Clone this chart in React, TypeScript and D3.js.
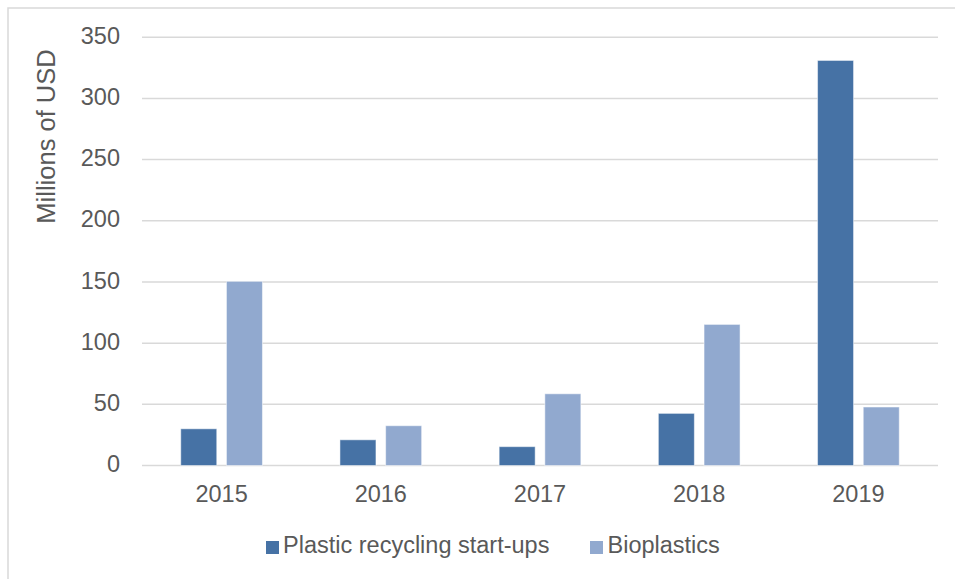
import React from "react";
import * as d3 from "d3";

const years = ["2015", "2016", "2017", "2018", "2019"];
const seriesNames = ["Plastic recycling start-ups", "Bioplastics"];
const recycling = [30, 21, 15.4, 42.6, 331];
const bioplastics = [150.5, 32.5, 58.6, 115.3, 47.8];
const yTicks = [0, 50, 100, 150, 200, 250, 300, 350];
const colors = ["#4672a5", "#91a9cf"];

const W = 955;
const H = 579;
const left = 142;
const right = 938;
const top = 37.2;
const bottom = 465.5;
const FONT = "'Liberation Sans', Arial, sans-serif";
const TEXT = "#595959";

export default function App() {
  const x0 = d3.scaleBand<string>().domain(years).range([left, right]).paddingInner(0).paddingOuter(0);
  const x1 = d3
    .scaleBand<string>()
    .domain(seriesNames)
    .range([0, x0.bandwidth()])
    .paddingInner(0.212)
    .paddingOuter(0.848);
  const y = d3.scaleLinear().domain([0, 350]).range([bottom, top]);
  const data = [recycling, bioplastics];

  return (
    <svg
      width={W}
      height={H}
      style={{ position: "absolute", left: 0, top: 0, background: "#fff" }}
      fontFamily={FONT}
    >
      <rect x={0} y={0} width={W} height={H} fill="#fff" />
      <rect x={8} y={8} width={W + 20} height={H + 20} fill="none" stroke="#d9d9d9" strokeWidth={1.5} />
      {yTicks.map((t) => (
        <g key={t}>
          <line x1={left} x2={right} y1={y(t)} y2={y(t)} stroke="#d9d9d9" strokeWidth={1.5} />
          <text
            x={120}
            y={y(t) - 1.5}
            dy="0.35em"
            textAnchor="end"
            fontSize={23.5}
            fill={TEXT}
          >
            {t}
          </text>
        </g>
      ))}
      {years.map((yr, i) => (
        <g key={yr} transform={`translate(${x0(yr)},0)`}>
          {seriesNames.map((s, j) => (
            <rect
              key={s}
              x={x1(s)}
              y={y(data[j][i])}
              width={x1.bandwidth()}
              height={bottom - y(data[j][i])}
              fill={colors[j]}
              stroke="#ffffff"
              strokeOpacity={0.5}
              strokeWidth={1}
            />
          ))}
          <text
            x={x0.bandwidth() / 2}
            y={502.3}
            textAnchor="middle"
            fontSize={23.5}
            fill={TEXT}
          >
            {yr}
          </text>
        </g>
      ))}
      <text
        transform={`translate(55,136.5) rotate(-90)`}
        textAnchor="middle"
        fontSize={25.5}
        fill={TEXT}
      >
        Millions of USD
      </text>
      <g>
        <rect x={266} y={541} width={13} height={13} fill={colors[0]} />
        <text x={283} y={553.3} fontSize={23.5} fill={TEXT}>
          {seriesNames[0]}
        </text>
        <rect x={590} y={541} width={13} height={13} fill={colors[1]} />
        <text x={607.5} y={553.3} fontSize={23.5} fill={TEXT}>
          {seriesNames[1]}
        </text>
      </g>
    </svg>
  );
}
